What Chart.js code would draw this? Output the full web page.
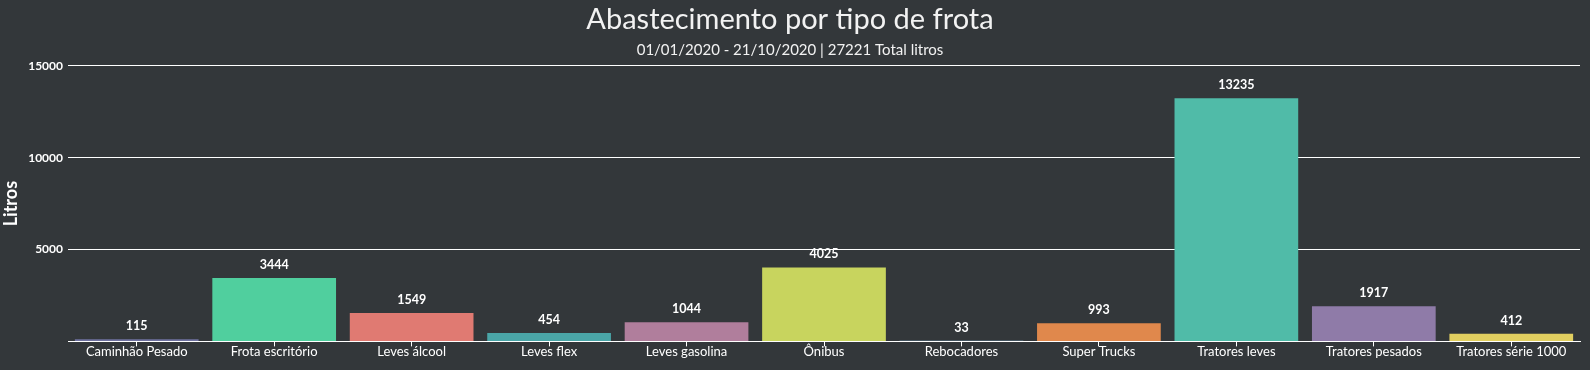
<!DOCTYPE html>
<html>
<head>
<meta charset="utf-8">
<script src="https://cdn.jsdelivr.net/npm/chart.js@4"></script>
<style>
  html, body { margin: 0; padding: 0; background: #33373a; }
  #wrap { width: 1590px; height: 370px; }
</style>
</head>
<body>
<div id="wrap"><canvas id="c" width="1590" height="370"></canvas></div>
<script>
const categories = ['Caminhão Pesado', 'Frota escritório', 'Leves álcool', 'Leves flex', 'Leves gasolina', 'Ônibus', 'Rebocadores', 'Super Trucks', 'Tratores leves', 'Tratores pesados', 'Tratores série 1000'];
const litros = [115, 3444, 1549, 454, 1044, 4025, 33, 993, 13235, 1917, 412];
const barColors = ['#6f72a0', '#50cf9e', '#e07a72', '#4aa5a7', '#b07e9c', '#c8d45e', '#7fb3d5', '#e0884c', '#50bba8', '#8f7ba8', '#e2cf60'];
const yTicks = [0, 5000, 10000, 15000];
const titleText = 'Abastecimento por tipo de frota';
const subtitleText = '01/01/2020 - 21/10/2020 | 27221 Total litros';
const yTitle = 'Litros';

const FONT = 'Lato, "Open Sans", sans-serif';

// Writes each bar's value just above it
const valueLabels = {
  id: 'valueLabels',
  afterDatasetsDraw(chart) {
    const ctx = chart.ctx;
    const meta = chart.getDatasetMeta(0);
    ctx.save();
    ctx.fillStyle = '#ffffff';
    ctx.font = 'bold 12.5px ' + FONT;
    ctx.textAlign = 'center';
    ctx.textBaseline = 'bottom';
    meta.data.forEach((bar, i) => {
      ctx.fillText(String(chart.data.datasets[0].data[i]), bar.x, bar.y - 7);
    });
    ctx.restore();
  }
};

new Chart(document.getElementById('c'), {
  type: 'bar',
  data: {
    labels: categories,
    datasets: [{
      label: yTitle,
      data: litros,
      backgroundColor: barColors,
      borderWidth: 0,
      barPercentage: 0.9,
      categoryPercentage: 1.0
    }]
  },
  options: {
    responsive: false,
    animation: false,
    layout: { padding: { left: 0, right: 10, top: 0, bottom: 12 } },
    plugins: {
      legend: { display: false },
      tooltip: { enabled: false },
      title: {
        display: true,
        text: titleText,
        color: '#f2f2f2',
        font: { family: FONT, size: 29, weight: 'normal' },
        padding: { top: 2, bottom: 4 }
      },
      subtitle: {
        display: true,
        text: subtitleText,
        color: '#f2f2f2',
        font: { family: FONT, size: 15, weight: 'normal' },
        padding: { top: 0, bottom: 7 }
      }
    },
    scales: {
      x: {
        grid: { display: true, offset: false, drawOnChartArea: false, drawTicks: true, tickLength: 5, color: '#ffffff' },
        border: { display: true, color: '#ffffff', width: 1 },
        ticks: { color: '#ffffff', font: { family: FONT, size: 13 }, padding: -2, maxRotation: 0, autoSkip: false }
      },
      y: {
        min: 0,
        max: 15000,
        afterBuildTicks(scale) { scale.ticks = yTicks.map(v => ({ value: v })); },
        afterFit(scale) { scale.width = 68; },
        grid: { color: '#ffffff', lineWidth: 1, drawTicks: false },
        border: { display: false },
        title: { display: true, text: yTitle, color: '#ffffff', font: { family: FONT, size: 18, weight: 'bold' }, padding: 0 },
        ticks: {
          color: '#ffffff',
          font: { family: FONT, size: 12, weight: 'bold' },
          padding: 5,
          callback(v) { return v === 0 ? '' : String(v); }
        }
      }
    }
  },
  plugins: [valueLabels]
});
</script>
</body>
</html>
